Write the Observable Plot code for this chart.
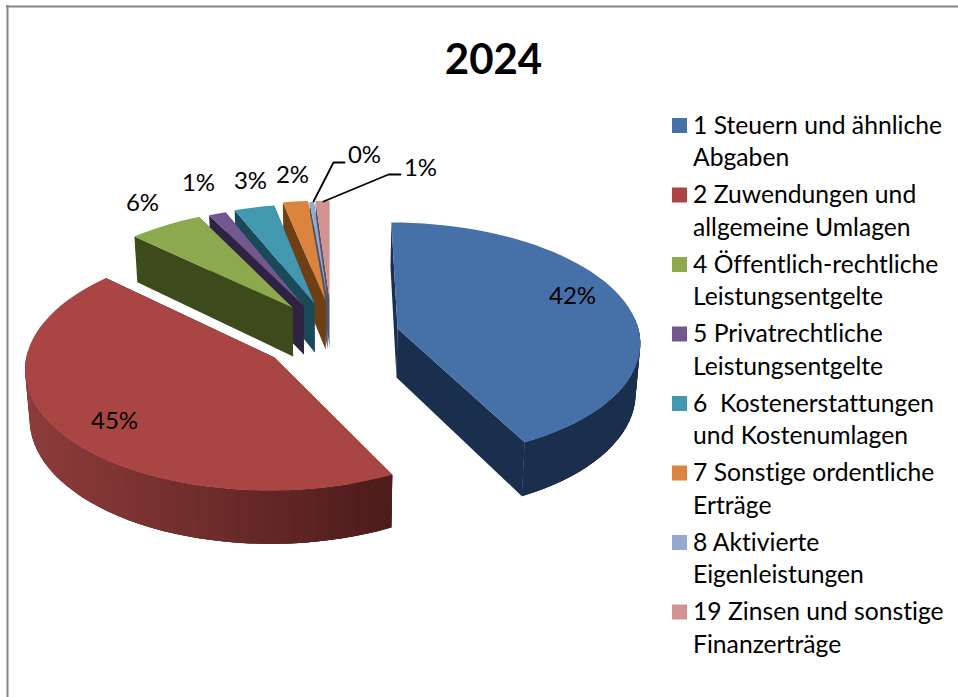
<!DOCTYPE html>
<html>
<head>
<meta charset="utf-8">
<script src="https://cdn.jsdelivr.net/npm/d3@7"></script>
<script src="https://cdn.jsdelivr.net/npm/@observablehq/plot@0.6"></script>
<style>
html,body{margin:0;padding:0;background:#fff}
svg{display:block}
svg text{font-variant-ligatures:none}
</style>
</head>
<body>
<div id="chart"></div>
<script>
const chartTitle = "2024";
const categories = [
  ["1 Steuern und ähnliche", "Abgaben"],
  ["2 Zuwendungen und", "allgemeine Umlagen"],
  ["4 Öffentlich-rechtliche", "Leistungsentgelte"],
  ["5 Privatrechtliche", "Leistungsentgelte"],
  ["6\u00a0 Kostenerstattungen", "und Kostenumlagen"],
  ["7 Sonstige ordentliche", "Erträge"],
  ["8 Aktivierte", "Eigenleistungen"],
  ["19 Zinsen und sonstige", "Finanzerträge"]
];
const shares = [42.45, 44.55, 5.6, 1.3, 3.0, 1.8, 0.3, 1.0];
const topColors = ["#4670a8", "#a94543", "#8da94d", "#71588f", "#4198af", "#db843d", "#93a9cf", "#d19392"];
const wallLeft  = ["#1a2f4e", "#8c3c3a", "#3d4a1c", "#2f2342", "#1a4a58", "#6e3f15", "#4a5568", "#5a5060"];
const wallRight = ["#1a2f4e", "#4a1a19", "#3d4a1c", "#2f2342", "#1a4a58", "#6e3f15", "#4a5568", "#5a5060"];

// exploded-slice layout (where each slice's tip sits in the picture, and its size)
const tipX = [397, 274, 292, 303, 314, 325, 327, 329];
const tipY = [328, 357, 307, 305, 303, 300, 299, 298];
const scaleX = [0.975, 1.005, 0.96, 0.96, 0.97, 1, 1, 1];
const scaleY = [1.0, 1.05, 0.955, 0.95, 0.95, 0.95, 0.93, 0.93];
const persp = [0.10, 0.08, 0.11, 0.11, 0.11, 0.11, 0.11, 0.11];
const paintOrder = [7, 6, 5, 4, 3, 2, 0, 1];
const labelX = [572, 114, 142, 198, 250, 292, 364, 420];
const labelY = [296, 421, 203, 183, 181, 175, 155, 168];

// perspective of the tilted pie
const rx = 247, ry = 116.6, vanishX = 330, depth = 49, shrink = 0.985;

const pie = d3.pie().sort(null).value(d => d)(shares);

function project(i, theta, radius, down) {
  const a = Math.sin(theta) * radius, b = -Math.cos(theta) * radius;
  const w = 1 / (1 - persp[i] * b);
  let x = vanishX + (tipX[i] - vanishX) * w + rx * scaleX[i] * a * w;
  let y = tipY[i] + ry * scaleY[i] * b * w;
  if (down) { x = vanishX + (x - vanishX) * shrink; y += depth * w; }
  return [x, y];
}

const polys = [];
let polyId = 0;
function pushPoly(pts, color) {
  const id = polyId++;
  pts.forEach(p => polys.push({id, x: p[0], y: p[1], color}));
}
for (const i of paintOrder) {
  const {startAngle: t0, endAngle: t1} = pie[i];
  const n = Math.max(2, Math.ceil((t1 - t0) / 0.05));
  const thetas = d3.range(n + 1).map(k => t0 + (t1 - t0) * k / n);
  const ramp = d3.interpolateRgb(wallLeft[i], wallRight[i]);
  const xs = thetas.map(t => project(i, t, 1, false)[0]);
  const [xMin, xMax] = d3.extent(xs);
  // radial walls
  for (const t of [t0, t1]) {
    pushPoly([project(i, t, 0, false), project(i, t, 1, false), project(i, t, 1, true), project(i, t, 0, true)], wallRight[i]);
  }
  // outer wall: front-facing pieces, each overlapping its neighbours so no seams show
  const front = d3.range(n).filter(k => Math.cos((thetas[k] + thetas[k + 1]) / 2) < 0.02);
  for (const k of front.sort((p, q) => xs[q] - xs[p])) {
    const f = xMax > xMin ? ((xs[k] + xs[k + 1]) / 2 - xMin) / (xMax - xMin) : 0;
    const span = [...new Set([Math.max(0, k - 1), k, k + 1, Math.min(n, k + 2)])];
    pushPoly([
      ...span.map(v => project(i, thetas[v], 1, false)),
      ...span.slice().reverse().map(v => project(i, thetas[v], 1, true))
    ], ramp(f));
  }
  // top face
  pushPoly([project(i, 0, 0, false), ...thetas.map(t => project(i, t, 1, false))], topColors[i]);
}

const pctLabels = shares.map((v, i) => ({x: labelX[i], y: labelY[i], text: d3.format(".0f")(v) + "%"}));

const leaderLines = [
  {id: 0, x: 313, y: 201}, {id: 0, x: 333, y: 162}, {id: 0, x: 344, y: 162},
  {id: 1, x: 323, y: 201}, {id: 1, x: 388, y: 174}, {id: 1, x: 400, y: 174}
];

const legendX = 672, legendTop = 118, legendStep = 69.5, legendLine = 32.5, swatch = 15;
const legendRects = categories.map((c, i) => ({x1: legendX, x2: legendX + swatch, y1: legendTop + i * legendStep, y2: legendTop + i * legendStep + swatch, color: topColors[i]}));
const legendText = categories.flatMap((c, i) => c.map((t, j) => ({x: legendX + 20.5, y: legendTop + 7.5 + i * legendStep + j * legendLine, text: t})));

const font = "Lato, Carlito, Calibri, sans-serif";
const W = 958, H = 697;

const plot = Plot.plot({
  width: W, height: H,
  margin: 0,
  style: {background: "#fff", fontFamily: font},
  x: {domain: [0, W], range: [0, W], axis: null},
  y: {domain: [0, H], range: [0, H], axis: null},
  color: {type: "identity"},
  marks: [
    Plot.ruleX([7], {y1: 5, y2: H, stroke: "#868686", strokeWidth: 2}),
    Plot.ruleY([6], {x1: 6, x2: W, stroke: "#868686", strokeWidth: 2}),
    Plot.line(polys, {x: "x", y: "y", z: "id", fill: "color", stroke: "none", curve: "linear"}),
    Plot.line(leaderLines, {x: "x", y: "y", z: "id", stroke: "#000", strokeWidth: 1.8, curve: "linear"}),
    Plot.text(pctLabels, {x: "x", y: "y", text: "text", fontSize: 24, fill: "#000", textAnchor: "middle"}),
    Plot.rect(legendRects, {x1: "x1", x2: "x2", y1: "y1", y2: "y2", fill: "color"}),
    Plot.text(legendText, {x: "x", y: "y", text: "text", fontSize: 24.7, fill: "#000", textAnchor: "start"}),
    Plot.text([chartTitle], {x: () => 493, y: () => 60, text: d => d, fontSize: 42, fontWeight: "bold", fill: "#000", textAnchor: "middle"})
  ]
});
document.getElementById("chart").appendChild(plot);
</script>
</body>
</html>
